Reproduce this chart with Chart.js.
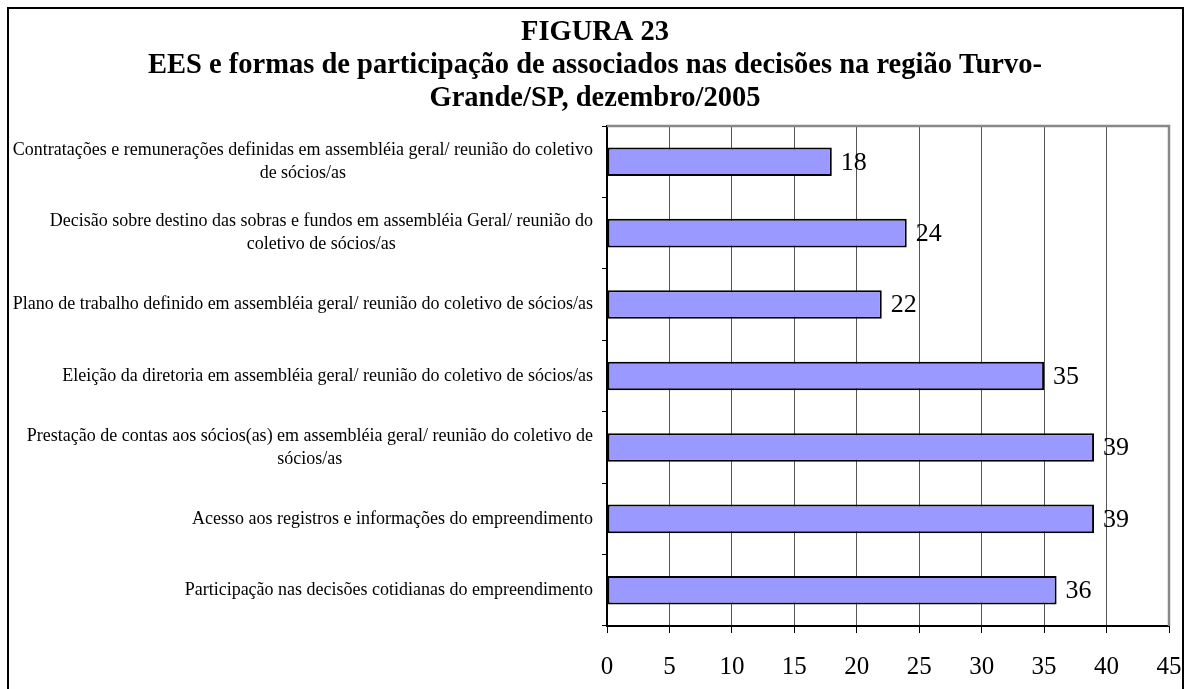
<!DOCTYPE html>
<html>
<head>
<meta charset="utf-8">
<script src="https://cdn.jsdelivr.net/npm/chart.js@4/dist/chart.umd.min.js"></script>
<style>
  html, body { margin: 0; padding: 0; background: #fff; }
  #wrap { position: relative; width: 1189px; height: 689px; }
</style>
</head>
<body>
<div id="wrap"><canvas id="c" width="1189" height="689"></canvas></div>
<script>
const titleLines = [
  'FIGURA 23',
  'EES e formas de participação de associados nas decisões na região Turvo-',
  'Grande/SP, dezembro/2005'
];
const categories = [
  ['Contratações e remunerações definidas em assembléia geral/ reunião do coletivo', 'de sócios/as'],
  ['Decisão sobre destino das sobras e fundos em assembléia Geral/ reunião do', 'coletivo de sócios/as'],
  ['Plano de trabalho definido em assembléia geral/ reunião do coletivo de sócios/as'],
  ['Eleição da diretoria em assembléia geral/ reunião do coletivo de sócios/as'],
  ['Prestação de contas aos sócios(as) em assembléia geral/ reunião do coletivo de', 'sócios/as'],
  ['Acesso aos registros e informações do empreendimento'],
  ['Participação nas decisões cotidianas do empreendimento']
];
const values = [18, 24, 22, 35, 39, 39, 36];
const xTicks = [0, 5, 10, 15, 20, 25, 30, 35, 40, 45];

const SERIF = "'Liberation Serif', 'Times New Roman', serif";

const decor = {
  id: 'decor',
  beforeDraw(chart) {
    const ctx = chart.ctx;
    ctx.save();
    ctx.fillStyle = '#fff';
    ctx.fillRect(0, 0, chart.width, chart.height);
    ctx.restore();
  },
  beforeDatasetsDraw(chart) {
    const ctx = chart.ctx, a = chart.chartArea;
    ctx.save();
    ctx.strokeStyle = '#888';
    ctx.lineWidth = 2.5;
    ctx.beginPath();
    ctx.moveTo(a.left, a.top);
    ctx.lineTo(a.right, a.top);
    ctx.lineTo(a.right, a.bottom);
    ctx.stroke();
    ctx.restore();
  },
  afterDatasetsDraw(chart) {
    const ctx = chart.ctx;
    const meta = chart.getDatasetMeta(0);
    ctx.save();
    ctx.fillStyle = '#000';
    ctx.font = '26px ' + SERIF;
    ctx.textAlign = 'left';
    ctx.textBaseline = 'middle';
    meta.data.forEach((bar, i) => {
      ctx.fillText(String(values[i]), bar.x + 9, bar.y + 1);
    });
    ctx.restore();
  },
  afterDraw(chart) {
    const ctx = chart.ctx;
    const y = chart.scales.y;
    ctx.save();
    // category labels: block right-aligned, lines centered within block
    ctx.fillStyle = '#000';
    ctx.font = '18px ' + SERIF;
    ctx.textBaseline = 'middle';
    ctx.textAlign = 'center';
    const right = 593, lh = 23;
    categories.forEach((lines, i) => {
      const cy = y.getPixelForValue(i);
      const w = Math.max(...lines.map(l => ctx.measureText(l).width));
      const cx = right - w / 2;
      lines.forEach((l, j) => {
        ctx.fillText(l, cx, cy + (j - (lines.length - 1) / 2) * lh);
      });
    });
    // title
    ctx.font = 'bold 28.5px ' + SERIF;
    ctx.textBaseline = 'alphabetic';
    ctx.textAlign = 'center';
    titleLines.forEach((t, i) => {
      ctx.fillText(t, 595, 40 + i * 33);
    });
    // outer frame
    ctx.strokeStyle = '#000';
    ctx.lineWidth = 2;
    ctx.strokeRect(8, 8, 1175, 700);
    ctx.restore();
  }
};

new Chart(document.getElementById('c'), {
  type: 'bar',
  data: {
    labels: categories,
    datasets: [{
      data: values,
      backgroundColor: '#9999FF',
      borderColor: '#000',
      borderWidth: 2,
      borderSkipped: false,
      barPercentage: 0.8,
      categoryPercentage: 0.5
    }]
  },
  options: {
    indexAxis: 'y',
    responsive: false,
    animation: false,
    devicePixelRatio: 1,
    layout: { padding: { top: 126, right: 20, left: 0, bottom: 0 } },
    plugins: {
      legend: { display: false },
      title: { display: false },
      tooltip: { enabled: false }
    },
    scales: {
      x: {
        min: 0, max: 45,
        afterBuildTicks(scale) { scale.ticks = xTicks.map(v => ({ value: v })); },
        afterFit(scale) { scale.height = 63; scale.paddingLeft = 0; scale.paddingRight = 0; },
        grid: { color: '#555', lineWidth: 1, tickColor: '#000', tickLength: 7, drawOnChartArea: true },
        border: { color: '#000', width: 2 },
        ticks: { color: '#000', font: { family: SERIF, size: 25 }, padding: 19, maxRotation: 0, autoSkip: false }
      },
      y: {
        afterFit(scale) { scale.width = 607; },
        grid: { drawOnChartArea: false, color: '#000', tickColor: '#000', tickLength: 5, offset: true },
        border: { color: '#000', width: 2 },
        ticks: { display: false }
      }
    }
  },
  plugins: [decor]
});
</script>
</body>
</html>
